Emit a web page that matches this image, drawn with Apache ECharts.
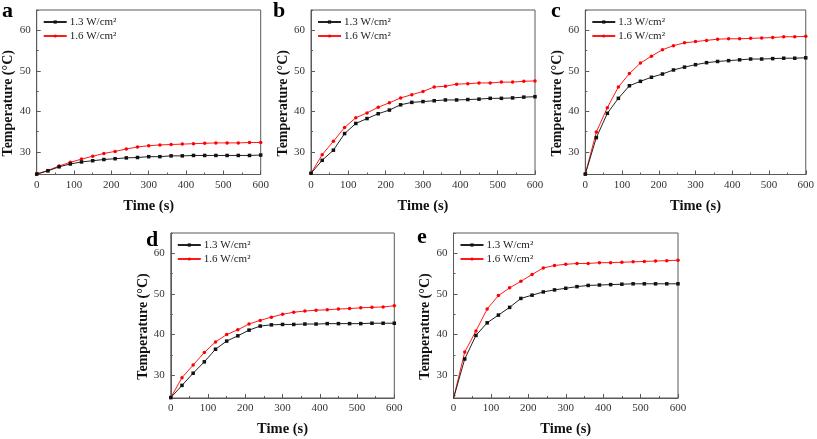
<!DOCTYPE html>
<html>
<head>
<meta charset="utf-8">
<script src="https://cdn.jsdelivr.net/npm/echarts@6/dist/echarts.min.js"></script>
<style>html,body{margin:0;padding:0;background:#fff}#main{width:817px;height:439px}</style>
</head>
<body>
<div id="main"></div>
<script>
const times = [0,30,60,90,120,150,180,210,240,270,300,330,360,390,420,450,480,510,540,570,600];
const seriesNames = ['1.3 W/cm²', '1.6 W/cm²'];
const panelLabels = ['a','b','c','d','e'];
const yTickValues = [30,40,50,60];
const yMinorValues = [25,35,45,55,65];

const aLow  = [24.5,25.3,26.3,27.0,27.5,27.8,28.1,28.3,28.5,28.6,28.8,28.8,29.0,29.0,29.1,29.1,29.1,29.1,29.1,29.1,29.2];
const aHigh = [24.5,25.4,26.5,27.4,28.2,28.9,29.6,30.1,30.7,31.2,31.5,31.7,31.8,31.9,32.0,32.1,32.2,32.2,32.2,32.3,32.3];
const bLow  = [24.7,27.9,30.4,34.5,37.0,38.2,39.4,40.3,41.6,42.2,42.4,42.6,42.8,42.8,42.9,43.0,43.2,43.2,43.3,43.5,43.6];
const bHigh = [24.7,29.3,32.6,36.0,38.4,39.6,41.0,42.1,43.3,44.1,44.9,46.0,46.2,46.7,46.8,47.0,47.0,47.2,47.2,47.4,47.5];
const cLow  = [24.5,33.5,39.5,43.2,46.3,47.4,48.4,49.2,50.2,50.9,51.5,52.0,52.3,52.5,52.7,52.9,52.9,53.0,53.1,53.1,53.2];
const cHigh = [24.5,34.9,40.9,46.0,49.3,51.9,53.6,55.2,56.2,56.9,57.2,57.5,57.8,57.9,57.9,58.0,58.1,58.2,58.4,58.4,58.5];
const dLow  = [24.5,27.5,30.5,33.3,36.4,38.4,39.7,41.1,42.1,42.4,42.5,42.5,42.6,42.6,42.7,42.7,42.7,42.7,42.8,42.8,42.8];
const dHigh = [24.5,29.4,32.5,35.6,38.2,40.0,41.2,42.6,43.5,44.3,45.0,45.5,45.8,46.0,46.1,46.3,46.4,46.6,46.7,46.8,47.1];
const eLow  = [24.3,34.0,39.8,42.9,44.8,46.7,48.9,49.7,50.5,51.0,51.4,51.8,52.1,52.2,52.3,52.4,52.5,52.5,52.5,52.5,52.5];
const eHigh = [24.3,35.7,40.9,46.3,49.6,51.5,53.1,54.8,56.4,57.0,57.3,57.5,57.5,57.7,57.7,57.8,57.9,58.0,58.1,58.2,58.3];

const lowSets = [aLow,bLow,cLow,dLow,eLow];
const highSets = [aHigh,bHigh,cHigh,dHigh,eHigh];

const FONT = 'Liberation Serif';
const frameColor = '#5a5a5a';
const grids = [
  {left:36.7, top:10,  width:224, height:164.5},
  {left:311,  top:10,  width:224, height:164.5},
  {left:585.3,top:10,  width:224, height:164.5},
  {left:170.8,top:233, width:223.5, height:165},
  {left:453.5,top:233, width:224.5, height:165}
];
const yNameGaps = [17, 20, 20, 20, 20];
const titlePos = [
  {left:2, top:0}, {left:273, top:0}, {left:551, top:0},
  {left:146, top:229}, {left:417, top:226}
];

const option = {
  animation:false,
  backgroundColor:'#fff',
  title: panelLabels.map((t,i)=>({text:t, left:titlePos[i].left, top:titlePos[i].top, padding:0,
    textStyle:{fontFamily:FONT, fontWeight:'bold', fontSize:22, color:'#000'}})),
  grid: grids.map(g=>Object.assign({show:true, borderColor:frameColor, borderWidth:1, backgroundColor:'transparent', containLabel:false}, g)),
  legend: grids.map((g,i)=>({
    data: seriesNames, orient:'vertical', left:g.left+6, top:g.top+6.5,
    itemWidth:23, itemHeight:4, itemGap:3, padding:0,
    textStyle:{fontFamily:FONT, fontSize:11, color:'#222', padding:[0,0,0,-2]},
    selectedMode:false
  })),
  xAxis: grids.map((g,i)=>({
    type:'value', gridIndex:i, min:0, max:600, interval:100,
    name:'Time (s)', nameLocation:'middle', nameGap:24,
    nameTextStyle:{fontFamily:FONT, fontWeight:'bold', fontSize:14.5, color:'#111'},
    axisLine:{show:true, lineStyle:{color:frameColor, width:1}},
    axisTick:{show:true, inside:true, length:4, lineStyle:{color:frameColor}},
    minorTick:{show:true, splitNumber:2, length:2, lineStyle:{color:frameColor}},
    axisLabel:{fontFamily:FONT, fontSize:11, color:'#333', margin:5},
    splitLine:{show:false}
  })),
  yAxis: [].concat(
    grids.map((g,i)=>({
      type:'value', gridIndex:i, min:24.4, max:65,
      name:'Temperature (°C)', nameLocation:'middle', nameGap:yNameGaps[i],
      nameTextStyle:{fontFamily:FONT, fontWeight:'bold', fontSize:14, color:'#111', padding:[0,22,0,0]},
      axisLine:{show:true, lineStyle:{color:frameColor, width:1}},
      axisTick:{show:true, inside:true, length:4, customValues:yTickValues, lineStyle:{color:frameColor}},
      axisLabel:{fontFamily:FONT, fontSize:11, color:'#333', margin:6, customValues:yTickValues},
      splitLine:{show:false}
    })),
    grids.map((g,i)=>({
      type:'value', gridIndex:i, min:24.4, max:65, position:'left',
      axisLine:{show:false},
      axisTick:{show:true, inside:true, length:2, customValues:yMinorValues, lineStyle:{color:frameColor}},
      axisLabel:{show:false},
      splitLine:{show:false}
    }))
  ),
  series: []
};

for (let i=0;i<5;i++){
  option.series.push({
    name:seriesNames[0], type:'line', xAxisIndex:i, yAxisIndex:i,
    data: times.map((t,k)=>[t, lowSets[i][k]]),
    symbol:'rect', symbolSize:3.5, showSymbol:true,
    lineStyle:{color:'#222', width:1}, itemStyle:{color:'#111'}, z:3
  });
  option.series.push({
    name:seriesNames[1], type:'line', xAxisIndex:i, yAxisIndex:i,
    data: times.map((t,k)=>[t, highSets[i][k]]),
    symbol:'circle', symbolSize:3.5, showSymbol:true,
    lineStyle:{color:'#ff1a1a', width:1}, itemStyle:{color:'#ff0000'}, z:2
  });
}

const chart = echarts.init(document.getElementById('main'), null, {renderer:'canvas'});
chart.setOption(option);
</script>
</body>
</html>
